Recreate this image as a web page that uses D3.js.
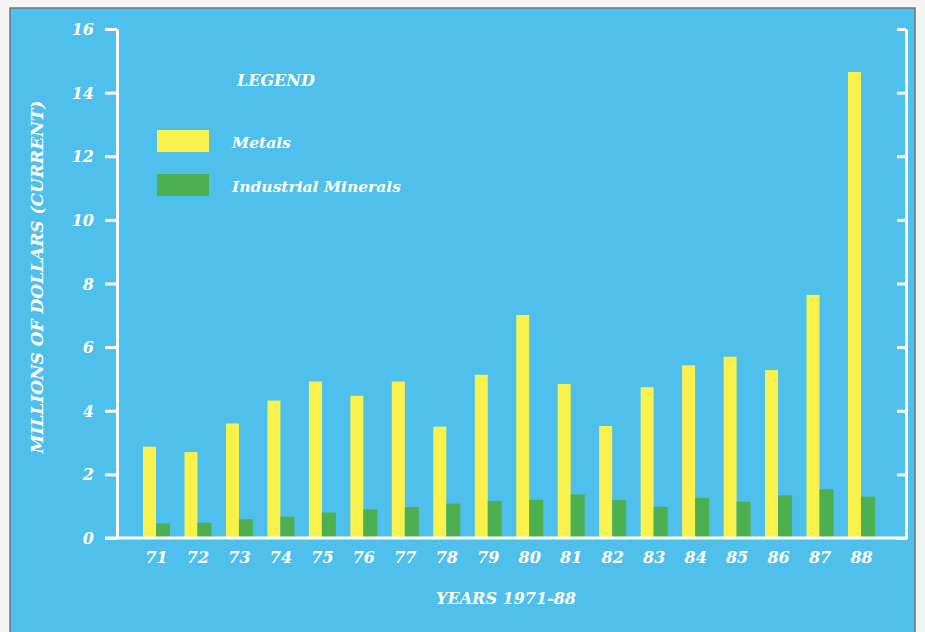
<!DOCTYPE html>
<html>
<head>
<meta charset="utf-8">
<script src="https://cdn.jsdelivr.net/npm/d3@7"></script>
<style>
  html, body { margin: 0; padding: 0; background: #f4f4f2; }
  svg { display: block; }
  .lbl { font-family: "DejaVu Serif", "Liberation Serif", serif; font-style: italic; font-weight: bold; fill: #ffffff; }
</style>
</head>
<body>
<svg id="chart" width="925" height="632"></svg>
<script>
// Mineral production value, millions of dollars (current), 1971-88
const years = ["71","72","73","74","75","76","77","78","79","80","81","82","83","84","85","86","87","88"];
const metals = [2.87, 2.70, 3.60, 4.32, 4.92, 4.47, 4.92, 3.50, 5.13, 7.01, 4.84, 3.52, 4.74, 5.43, 5.70, 5.28, 7.64, 14.65];
const industrialMinerals = [0.46, 0.48, 0.59, 0.67, 0.80, 0.90, 0.97, 1.08, 1.16, 1.20, 1.37, 1.19, 0.98, 1.26, 1.14, 1.34, 1.53, 1.30];
const yTicks = [0, 2, 4, 6, 8, 10, 12, 14, 16];
const legendItems = ["Metals", "Industrial Minerals"];

const colors = { bg: "#4fbfec", metals: "#f9f24c", minerals: "#4cb050", line: "#ffffff" };

const svg = d3.select("#chart");

// panel background
svg.append("rect").attr("x", 10).attr("y", 8).attr("width", 905).attr("height", 630)
  .attr("fill", colors.bg).attr("stroke", "#6d747a").attr("stroke-width", 1.5);

const xLeft = 117, xRight = 906, yTop = 29, yBottom = 538;

const y = d3.scaleLinear().domain([0, 16]).range([yBottom, yTop]);
const x = d3.scalePoint().domain(years).range([156, 861]);

const barW = 13, barW2 = 14;

// bars
const g = svg.append("g");
g.selectAll("rect.metal").data(years).join("rect").attr("class", "metal")
  .attr("x", d => x(d) - barW).attr("width", barW)
  .attr("y", (d, i) => y(metals[i])).attr("height", (d, i) => y(0) - y(metals[i]))
  .attr("fill", colors.metals);
g.selectAll("rect.mineral").data(years).join("rect").attr("class", "mineral")
  .attr("x", d => x(d)).attr("width", barW2)
  .attr("y", (d, i) => y(industrialMinerals[i])).attr("height", (d, i) => y(0) - y(industrialMinerals[i]))
  .attr("fill", colors.minerals);

// left axis
const left = svg.append("g").attr("transform", `translate(${xLeft},0)`)
  .call(d3.axisLeft(y).tickValues(yTicks).tickSize(12).tickPadding(11).tickSizeOuter(0));
left.select(".domain").attr("stroke", colors.line).attr("stroke-width", 3);
left.selectAll(".tick line").attr("stroke", colors.line).attr("stroke-width", 3);
left.selectAll(".tick text").attr("class", "lbl").attr("font-size", 16).attr("dy", "0.35em");

// right axis (ticks pointing inward)
const right = svg.append("g").attr("transform", `translate(${xRight},0)`)
  .call(d3.axisLeft(y).tickValues(yTicks).tickSize(9).tickSizeOuter(0).tickFormat(""));
right.select(".domain").attr("stroke", colors.line).attr("stroke-width", 3);
right.selectAll(".tick line").attr("stroke", colors.line).attr("stroke-width", 3);

// bottom axis line
svg.append("line").attr("x1", 105).attr("x2", xRight + 1.5).attr("y1", yBottom).attr("y2", yBottom)
  .attr("stroke", colors.line).attr("stroke-width", 3);

// year labels
const bottom = svg.append("g").attr("transform", `translate(0,${yBottom})`)
  .call(d3.axisBottom(x).tickSize(0).tickPadding(14));
bottom.select(".domain").remove();
bottom.selectAll(".tick text").attr("class", "lbl").attr("font-size", 16).attr("dy", "0.71em");

// axis titles
svg.append("text").attr("class", "lbl").attr("font-size", 16).attr("text-anchor", "middle")
  .attr("x", 506).attr("y", 604).text("YEARS 1971-88");
svg.append("text").attr("class", "lbl").attr("font-size", 17).attr("text-anchor", "middle")
  .attr("transform", "translate(43,277) rotate(-90)").text("MILLIONS OF DOLLARS (CURRENT)");

// legend
svg.append("text").attr("class", "lbl").attr("font-size", 16).attr("x", 237).attr("y", 86).text("LEGEND");
const legendColors = [colors.metals, colors.minerals];
const leg = svg.append("g").selectAll("g").data(legendItems).join("g")
  .attr("transform", (d, i) => `translate(157,${130 + i * 44})`);
leg.append("rect").attr("width", 52).attr("height", 22).attr("fill", (d, i) => legendColors[i]);
leg.append("text").attr("class", "lbl").attr("font-size", 15.5).attr("x", 75).attr("y", 18).text(d => d);
</script>
</body>
</html>
